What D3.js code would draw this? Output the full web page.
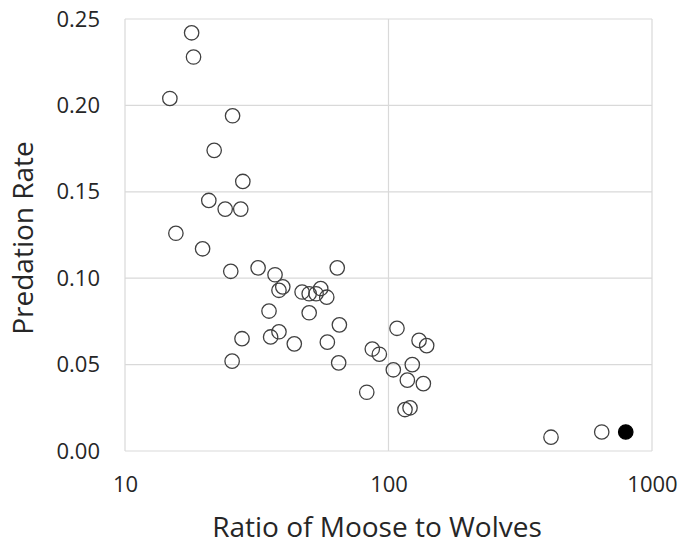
<!DOCTYPE html>
<html>
<head>
<meta charset="utf-8">
<script src="https://cdn.jsdelivr.net/npm/d3@7"></script>
<style>
  body { margin: 0; background: #fff; }
  text { font-family: "Open Sans", sans-serif; fill: #262626; }
</style>
</head>
<body>
<div id="chart"></div>
<script>
        // Data: ratio of moose to wolves vs predation rate
        const ratio = [17.9, 18.2, 14.8, 25.6, 21.8, 28.0, 20.8, 24.0, 27.5, 15.6,
                       19.7, 25.2, 32.0, 37.1, 39.7, 38.4, 47.0, 50.0, 53.1, 55.3,
                       58.3, 63.9, 35.2, 50.0, 65.1, 27.8, 38.4, 35.7, 43.9, 58.6,
                       25.5, 64.7, 86.8, 92.3, 107.7, 130.6, 139.6, 123.1, 104.3, 117.9,
                       135.6, 82.7, 115.5, 120.7, 413.7, 644.5];
        const rate = [0.242, 0.228, 0.204, 0.194, 0.174, 0.156, 0.145, 0.140, 0.140, 0.126,
                      0.117, 0.104, 0.106, 0.102, 0.095, 0.093, 0.092, 0.091, 0.091, 0.094,
                      0.089, 0.106, 0.081, 0.080, 0.073, 0.065, 0.069, 0.066, 0.062, 0.063,
                      0.052, 0.051, 0.059, 0.056, 0.071, 0.064, 0.061, 0.050, 0.047, 0.041,
                      0.039, 0.034, 0.024, 0.025, 0.008, 0.011];
        // highlighted (filled) point
        const highlightRatio = [795];
        const highlightRate = [0.011];

        const xTicks = [10, 100, 1000];
        const yTicks = [0, 0.05, 0.10, 0.15, 0.20, 0.25];

        const W = 695, H = 546;
        const margin = {top: 19, right: 43, bottom: 95, left: 125};
        const width = W - margin.left - margin.right;
        const height = H - margin.top - margin.bottom;

        const svg = d3.select("#chart")
            .append("svg")
            .attr("width", W)
            .attr("height", H);

        const g = svg.append("g")
            .attr("transform", `translate(${margin.left},${margin.top})`);

        const x = d3.scaleLog().domain([10, 1000]).range([0, width]);
        const y = d3.scaleLinear().domain([0, 0.25]).range([height, 0]);

        // Сітка
        g.selectAll(".gx").data(xTicks).enter().append("line")
            .attr("x1", d => x(d)).attr("x2", d => x(d))
            .attr("y1", 0).attr("y2", height)
            .attr("stroke", "#d9d9d9").attr("stroke-width", 1.2);

        g.selectAll(".gy").data(yTicks).enter().append("line")
            .attr("x1", 0).attr("x2", width)
            .attr("y1", d => y(d)).attr("y2", d => y(d))
            .attr("stroke", "#d9d9d9").attr("stroke-width", 1.2);

        // Осі
        const xAxis = g.append("g")
            .attr("transform", `translate(0,${height})`)
            .call(d3.axisBottom(x).tickValues(xTicks).tickFormat(d3.format("d")).tickSize(0).tickPadding(25));
        const yAxis = g.append("g")
            .call(d3.axisLeft(y).tickValues(yTicks).tickFormat(d3.format(".2f")).tickSize(0).tickPadding(25));

        [xAxis, yAxis].forEach(a => {
            a.select(".domain").remove();
            a.selectAll("text").style("font-size", "22px").style("font-family", "'Open Sans', sans-serif").attr("fill", "#262626");
        });

        // Підписи осей
        svg.append("text")
            .attr("x", 377)
            .attr("y", 537)
            .attr("text-anchor", "middle")
            .style("font-size", "28px")
            .text("Ratio of Moose to Wolves");

        svg.append("text")
            .attr("transform", "translate(33, 238) rotate(-90)")
            .attr("text-anchor", "middle")
            .style("font-size", "28px")
            .text("Predation Rate");

        // Точки
        g.selectAll(".dot")
            .data(d3.zip(ratio, rate))
            .enter().append("circle")
            .attr("r", 7.2)
            .attr("cx", d => x(d[0]))
            .attr("cy", d => y(d[1]))
            .attr("fill", "none")
            .attr("stroke", "#404040")
            .attr("stroke-width", 1.3);

        g.selectAll(".hl")
            .data(d3.zip(highlightRatio, highlightRate))
            .enter().append("circle")
            .attr("r", 7.2)
            .attr("cx", d => x(d[0]))
            .attr("cy", d => y(d[1]))
            .attr("fill", "#000")
            .attr("stroke", "#000")
            .attr("stroke-width", 1.3);
</script>
</body>
</html>
